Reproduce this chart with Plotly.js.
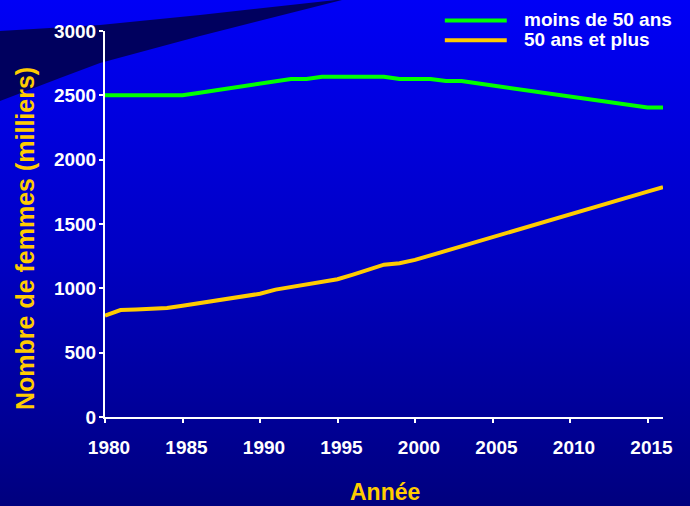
<!DOCTYPE html>
<html>
<head>
<meta charset="utf-8">
<script src="https://cdn.plot.ly/plotly-3.0.1.min.js"></script>
<style>
  html, body { margin: 0; padding: 0; }
  #wrap { position: relative; width: 690px; height: 506px; overflow: hidden;
          background: linear-gradient(to bottom, #0000f6 0%, #0000c4 50%, #00007e 100%); }
  #band { position: absolute; left: 0; top: 0; }
  #chart { position: absolute; left: 0; top: 0; width: 690px; height: 506px; }
</style>
</head>
<body>
<div id="wrap">
  <svg id="band" width="690" height="506">
    <path d="M0,31 L100,25 L200,15 L336,0 L342,0 L200,36 L100,63 L60,78 L0,101 Z" fill="#00005e"/>
  </svg>
  <div id="chart"></div>
</div>
<script>
// ---- data ----
const years = [1980,1981,1982,1983,1984,1985,1986,1987,1988,1989,1990,1991,1992,1993,1994,1995,1996,1997,1998,1999,2000,2001,2002,2003,2004,2005,2006,2007,2008,2009,2010,2011,2012,2013,2014,2015,2016];
const moinsDe50 = [2500,2500,2500,2500,2500,2500,2518,2536,2554,2573,2591,2609,2627,2627,2645,2645,2645,2645,2645,2627,2627,2627,2611,2611,2594,2577,2560,2543,2526,2509,2492,2475,2458,2441,2424,2405,2405];
const plus50 = [787,831,836,842,847,865,884,902,921,939,958,990,1011,1031,1051,1071,1107,1146,1184,1195,1221,1256,1292,1327,1363,1398,1433,1469,1504,1540,1575,1610,1646,1681,1717,1752,1787];
const seriesNames = ["moins de 50 ans", "50 ans et plus"];
const seriesColors = ["#00ff00", "#ffcc00"];
const xTicks = [1980,1985,1990,1995,2000,2005,2010,2015];
const yTicks = [0,500,1000,1500,2000,2500,3000];
const xTitle = "Année";
const yTitle = "Nombre de femmes (milliers)";

const FONT = "Liberation Sans, Arial, sans-serif";

const traces = [
  { x: years, y: moinsDe50, name: seriesNames[0], type: "scatter", mode: "lines",
    line: { color: seriesColors[0], width: 4 }, showlegend: false, hoverinfo: "skip" },
  { x: years, y: plus50, name: seriesNames[1], type: "scatter", mode: "lines",
    line: { color: seriesColors[1], width: 4 }, showlegend: false, hoverinfo: "skip" }
];

// custom legend (long line samples like the reference)
const legShapes = [];
const annotations = [];
const legY = [1.027, 0.976];
const legTextY = [1.031, 0.977];
for (let i = 0; i < seriesNames.length; i++) {
  legShapes.push({ type: "line", xref: "paper", yref: "paper",
    x0: 0.609, x1: 0.720, y0: legY[i], y1: legY[i],
    line: { color: seriesColors[i], width: 4 } });
  annotations.push({ xref: "paper", yref: "paper", x: 0.748, y: legTextY[i],
    xanchor: "left", yanchor: "middle", showarrow: false, text: seriesNames[i],
    font: { family: FONT, size: 19, color: "#ffffff", weight: 700 } });
}
// axis titles
annotations.push({ xref: "paper", yref: "paper", x: -0.1434, y: 0.4637, textangle: -90,
  xanchor: "center", yanchor: "middle", showarrow: false, text: yTitle,
  font: { family: FONT, size: 25, color: "#ffcc00", weight: 700 } });
annotations.push({ xref: "paper", yref: "paper", x: 0.5018, y: -0.194,
  xanchor: "center", yanchor: "middle", showarrow: false, text: xTitle,
  font: { family: FONT, size: 23, color: "#ffcc00", weight: 700 } });

const layout = {
  width: 690, height: 506,
  margin: { l: 105, r: 27, t: 31, b: 89 },
  paper_bgcolor: "rgba(0,0,0,0)",
  plot_bgcolor: "rgba(0,0,0,0)",
  showlegend: false,
  font: { family: FONT, size: 19, color: "#ffffff", weight: 700 },
  xaxis: {
    range: [1980, 2016], tickvals: xTicks, ticktext: xTicks.map(String),
    showgrid: false, zeroline: false, showline: true, linecolor: "#ffffff", linewidth: 2,
    ticks: "outside", ticklen: 4, tickwidth: 2, tickcolor: "#ffffff",
    ticklabelstandoff: 8, ticklabelshift: 4,
    tickfont: { family: FONT, size: 19, color: "#ffffff", weight: 700 }
  },
  xaxis2: {
    overlaying: "x", anchor: "y", side: "bottom", range: [1980, 2016], tickvals: xTicks,
    showticklabels: false, showgrid: false, zeroline: false, showline: false,
    ticks: "inside", ticklen: 5, tickwidth: 2, tickcolor: "#ffffff"
  },
  yaxis: {
    range: [0, 3000], tickvals: yTicks, ticktext: yTicks.map(String),
    showgrid: false, zeroline: false, showline: true, linecolor: "#ffffff", linewidth: 2,
    ticks: "outside", ticklen: 4, tickwidth: 2, tickcolor: "#ffffff",
    ticklabelstandoff: -1,
    tickfont: { family: FONT, size: 19, color: "#ffffff", weight: 700 }
  },
  shapes: legShapes,
  annotations: annotations
};

Plotly.newPlot("chart", traces, layout, { staticPlot: true, displayModeBar: false });
</script>
</body>
</html>
